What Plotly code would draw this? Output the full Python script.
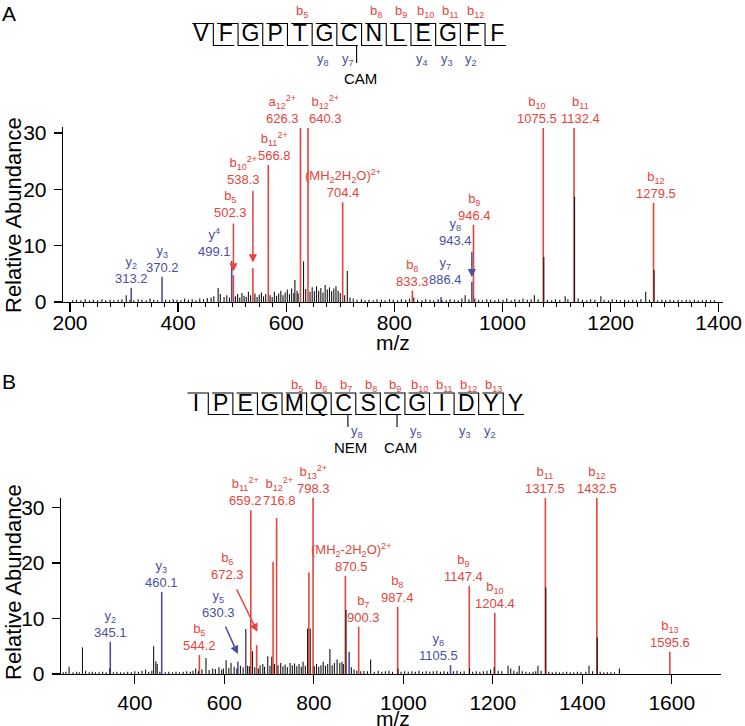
import plotly.graph_objects as go

FONT = "Liberation Sans, Arial, Helvetica, sans-serif"
RED = "#e5443d"
BLUE = "#4d4fa3"
BLACK = "#151515"
W, H = 745, 726

# ======================= DATA : panel A =======================
A_sequence = ["V", "F", "G", "P", "T", "G", "C", "N", "L", "E", "G", "F", "F"]
A_b_fragments = [5, 8, 9, 10, 11, 12]
A_y_fragments = [8, 7, 4, 3, 2]
A_mod_names = ["CAM"]
A_mod_residues = [7]

A_ion_names = ["y<sub>2</sub>", "y<sub>3</sub>", "y<sup>4</sup>", "b<sub>11</sub><sup>2+</sup>",
               "a<sub>12</sub><sup>2+</sup>", "b<sub>12</sub><sup>2+</sup>",
               "(MH<sub>2</sub>2H<sub>2</sub>O)<sup>2+</sup>", "b<sub>8</sub>", "y<sub>7</sub>",
               "b<sub>9</sub>", "b<sub>10</sub>", "b<sub>11</sub>", "b<sub>12</sub>"]
A_ion_mz = [313.2, 370.2, 499.1, 566.8, 626.3, 640.3, 704.4, 833.3, 886.4, 946.4, 1075.5, 1132.4, 1279.5]
A_ion_abund = [2.5, 4.5, 7.3, 24.3, 30.9, 30.9, 17.7, 2.0, 0.9, 13.7, 30.9, 30.9, 17.6]
A_ion_series = ["y", "y", "y", "b", "b", "b", "b", "b", "y", "b", "b", "b", "b"]

A_arrow_names = ["b<sub>5</sub>", "b<sub>10</sub><sup>2+</sup>", "y<sub>8</sub>"]
A_arrow_mz = [502.3, 538.3, 943.4]
A_arrow_abund = [4.8, 6.0, 3.6]
A_arrow_series = ["b", "b", "y"]

A_black_peaks = [
    (205, .3), (212, .4), (220, .3), (228, .5), (236, .3), (243, .4), (251, .3), (259, .5), (266, .3),
    (274, .4), (281, .3), (289, .4), (296, .5), (304, 1.2), (311, .4), (318, .3), (326, .5), (333, .4),
    (341, .3), (348, .6), (355, .4), (362, .3), (377, .4), (384, .3), (391, .5), (398, .4), (405, .3),
    (412, .6), (419, .4), (426, .5), (433, .3), (440, .6), (447, .5), (454, .7), (461, .8), (466, 1.0),
    (474, 2.5), (478, 1.4), (485, .9), (490, 1.2), (495, .8), (506, 1.0), (510, 1.4), (514, .8),
    (518, 1.6), (522, 1.1), (526, .9), (530, 1.8), (534, 1.2), (542, 1.5), (546, .9), (550, 1.3),
    (554, 1.7), (558, 1.0), (562, 1.4), (570, 1.2), (574, .9), (578, 1.8), (582, 1.1), (586, 1.5),
    (590, 2.0), (594, 1.2), (598, 1.7), (602, 2.2), (606, 1.4), (610, 2.4), (614, 1.6), (616, 3.9),
    (620, 2.0), (622, 1.5), (632, 7.2), (636, 2.3), (644, 1.8), (648, 2.6), (652, 1.9), (656, 2.8),
    (660, 2.0), (664, 2.5), (668, 1.7), (672, 3.0), (676, 2.2), (680, 2.6), (684, 1.9), (688, 2.4),
    (692, 2.8), (696, 2.0), (700, 1.6), (708, 1.2), (713, 5.5), (718, .8), (724, .6), (731, .4),
    (739, .5), (746, .3), (753, .4), (761, .3), (768, .5), (776, .4), (783, .3), (791, .5), (798, .4),
    (806, .3), (813, .5), (821, .4), (828, .6), (836, .8), (843, .4), (851, .3), (858, .5), (866, .4),
    (873, .3), (881, .5), (888, .4), (896, .3), (903, .5), (911, .4), (918, .3), (925, .6), (931, 1.2),
    (938, .5), (949, .6), (956, .4), (963, .3), (971, .5), (978, .4), (986, .3), (993, .5), (1001, .4),
    (1008, .6), (1016, .3), (1023, .5), (1031, .4), (1038, .6), (1046, .4), (1053, .5), (1059, 1.2),
    (1066, .5), (1076.5, 8.0), (1083, .4), (1091, .3), (1098, .5), (1106, .4), (1116, 1.0), (1121, .5),
    (1133.4, 18.7), (1140, .6), (1148, .4), (1156, .3), (1163, .5), (1171, .4), (1182, 1.0), (1188, .4),
    (1196, .3), (1203, .5), (1211, .4), (1218, .3), (1226, .4), (1233, .3), (1241, .4), (1248, .3),
    (1256, .5), (1265, 1.8), (1272, .4), (1280.5, 5.7), (1287, .3), (1295, .4), (1302, .3), (1310, .4),
    (1317, .3), (1325, .4), (1332, .3), (1340, .4), (1347, .3), (1355, .4), (1362, .3), (1370, .3),
    (1377, .4), (1385, .3), (1392, .3),
]
A_xticks = [200, 400, 600, 800, 1000, 1200, 1400]
A_yticks = [0, 10, 20, 30]

# ======================= DATA : panel B =======================
B_sequence = ["I", "P", "E", "G", "M", "Q", "C", "S", "C", "G", "I", "D", "Y", "Y"]
B_b_fragments = [5, 6, 7, 8, 9, 10, 11, 12, 13]
B_y_fragments = [8, 5, 3, 2]
B_mod_names = ["NEM", "CAM"]
B_mod_residues = [7, 9]

B_ion_names = ["y<sub>2</sub>", "y<sub>3</sub>", "b<sub>5</sub>", "b<sub>11</sub><sup>2+</sup>",
               "b<sub>12</sub><sup>2+</sup>", "b<sub>13</sub><sup>2+</sup>",
               "(MH<sub>2</sub>-2H<sub>2</sub>O)<sup>2+</sup>", "b<sub>7</sub>", "b<sub>8</sub>",
               "y<sub>8</sub>", "b<sub>9</sub>", "b<sub>10</sub>", "b<sub>11</sub>", "b<sub>12</sub>",
               "b<sub>13</sub>"]
B_ion_mz = [345.1, 460.1, 544.2, 659.2, 716.8, 798.3, 870.5, 900.3, 987.4, 1105.5, 1147.4, 1204.4,
            1317.5, 1432.5, 1595.6]
B_ion_abund = [5.8, 14.8, 3.4, 29.5, 28.1, 31.7, 17.7, 8.5, 12.1, 1.6, 15.9, 11.0, 31.7, 31.7, 4.0]
B_ion_series = ["y", "y", "b", "b", "b", "b", "b", "b", "b", "y", "b", "b", "b", "b", "b"]

B_extra_mz = [709.0, 789.0, 879.0]
B_extra_abund = [20.2, 18.3, 4.0]
B_extra_series = ["b", "b", "y"]

B_arrow_names = ["y<sub>5</sub>", "b<sub>6</sub>"]
B_arrow_mz = [630.3, 672.3]
B_arrow_abund = [2.2, 5.2]
B_arrow_series = ["y", "b"]

B_black_peaks = [
    (240, .3), (246, .4), (253, 1.3), (262, .3), (270, .4), (276, .3), (283, 4.8), (290, .6), (298, .3),
    (305, .4), (312, .3), (320, .3), (328, .4), (336, .3), (344, 1.0), (352, .3), (360, .4), (368, .3),
    (376, .3), (384, .4), (392, .3), (400, .5), (408, .4), (416, .6), (424, .8), (431, .4), (438, .6),
    (442, 5.0), (447, 2.3), (450, 1.8), (456, .4), (468, .3), (476, .4), (484, .3), (492, .4), (500, .3),
    (508, .4), (516, .5), (524, .4), (530, .6), (536, 1.0), (542, .5), (550, .8), (559, 2.9), (566, .7),
    (574, 1.0), (580, .9), (588, 1.2), (594, .8), (598, 1.0), (604, 2.5), (610, 1.1), (615, 2.0),
    (622, 1.3), (628, 1.0), (636, 1.5), (642, 1.2), (648, 8.1), (652, 1.5), (656, 1.4), (663, 4.1),
    (668, 1.2), (676, 1.0), (680, 1.6), (686, 1.8), (690, 1.3), (697, 3.2), (702, 1.5), (706, 3.1),
    (712, 1.8), (720, 1.6), (726, 2.0), (731, 1.4), (736, 1.7), (741, 1.2), (747, 2.0), (752, 1.6),
    (757, 1.9), (762, 1.4), (767, 1.8), (772, 1.3), (776, 2.2), (781, 1.5), (786, 8.2), (792, 8.2),
    (801, 1.4), (806, 1.8), (811, 1.3), (816, 1.6), (821, 2.2), (826, 1.5), (831, 1.8), (836, 4.5),
    (841, 1.6), (846, 2.0), (852, 2.6), (858, 2.0), (863, 2.2), (866, 1.8), (872, 11.6), (884, 1.2),
    (890, .8), (896, .6), (905, .5), (912, .6), (920, .5), (927, 2.6), (935, .4), (944, .6), (952, .4),
    (960, .5), (968, .6), (976, .4), (988, 1.0), (995, .4), (1003, .5), (1011, .4), (1019, .5),
    (1027, .4), (1035, .6), (1043, .4), (1051, .5), (1059, .4), (1067, .5), (1075, .6), (1083, .4),
    (1091, .5), (1099, .4), (1112, .5), (1120, .6), (1128, .4), (1136, .5), (1148, 1.0), (1155, .4),
    (1163, .5), (1171, .4), (1179, .5), (1187, .6), (1195, .8), (1203, 1.2), (1212, .6), (1220, .5),
    (1234, 1.5), (1240, 1.0), (1247, .6), (1254, .4), (1259, 1.5), (1266, .5), (1274, .4), (1282, .3),
    (1290, .4), (1296, .5), (1301, 1.5), (1308, .6), (1318.5, 15.6), (1325, .4), (1333, .3), (1341, .4),
    (1349, .3), (1357, .3), (1365, .4), (1373, .3), (1381, .3), (1389, .4), (1397, .3), (1408, .4),
    (1415, 1.5), (1423, .5), (1433.5, 6.6), (1440, .4), (1448, .3), (1456, .3), (1464, .3), (1472, .3),
    (1483, 1.0),
]
B_xticks = [400, 600, 800, 1000, 1200, 1400, 1600]
B_yticks = [0, 10, 20, 30]

# ======================= STYLE / LAYOUT (no data) =======================
A_lbl_anchor = ["center", "center", "right", "center", "right", "left", "center", "center", "center",
                "center", "center", "center", "center"]
A_lbl_dx = [0, 0, 1, 6, 1, -1, 0, 0, 4, 1, -6, 6, 2]
A_lbl_dy = [0, 0, 0, 0, 0, 0, 0, 0, 8, 0, 0, 0, 0]
A_arrow_tail = [14.2, 20.0, 9.2]
A_arrow_tip = [5.4, 7.0, 4.4]
A_arrow_lbl_anchor = ["center", "center", "right"]
A_arrow_lbl_dx = [-3, -9, 2]

B_lbl_dx = [0, 0, 0, -5, 3, 0, 6, 5, 0, -12, -6, 0, 0, 0, 0]
B_lbl_dy = [0, 0, 0, 0, 8, 0, 0, 0, 0, 0, 0, 0, 0, 0, 0]
B_arrow_tail_mz = [601, 626]
B_arrow_tail = [8.8, 15.5]
B_arrow_tip_mz = [630.3, 674]
B_arrow_tip = [3.6, 7.6]
B_arrow_lbl_mz = [586, 606]
B_arrow_lbl_y = [9.4, 16.2]


def px_x(p):
    return p / W


def px_y(p):
    return 1 - p / H


def col(s):
    return RED if s == "b" else BLUE


def sticks(mzs, tops):
    xs, ys = [], []
    for m, t in zip(mzs, tops):
        xs += [m, m, None]
        ys += [0, t, None]
    return xs, ys


fig = go.Figure()
ann = []


def add_sticks(mzs, tops, color, width, xa, ya):
    xs, ys = sticks(mzs, tops)
    fig.add_trace(go.Scatter(x=xs, y=ys, mode="lines", line=dict(color=color, width=width),
                             xaxis=xa, yaxis=ya, hoverinfo="skip", showlegend=False))


def spectrum(ion_names, ion_mz, ion_ab, ion_ser, arr_names, arr_mz, arr_ab, arr_ser, black,
             xr, yr, lbl_anchor, lbl_dx, lbl_dy):
    for s in ("b", "y"):
        sel = [i for i, q in enumerate(ion_ser) if q == s]
        add_sticks([ion_mz[i] for i in sel], [ion_ab[i] for i in sel], col(s), 1.6, xr, yr)
        sel = [i for i, q in enumerate(arr_ser) if q == s]
        add_sticks([arr_mz[i] for i in sel], [arr_ab[i] for i in sel], col(s), 1.6, xr, yr)
    add_sticks([p[0] for p in black], [p[1] for p in black], BLACK, 1.1, xr, yr)
    for i, name in enumerate(ion_names):
        ann.append(dict(x=ion_mz[i], y=ion_ab[i], xref=xr, yref=yr, showarrow=False,
                        text=f"{name}<br>{ion_mz[i]:.1f}", xanchor=lbl_anchor[i], yanchor="bottom",
                        xshift=lbl_dx[i], yshift=lbl_dy[i],
                        font=dict(family=FONT, size=13, color=col(ion_ser[i]))))


spectrum(A_ion_names, A_ion_mz, A_ion_abund, A_ion_series, A_arrow_names, A_arrow_mz, A_arrow_abund,
         A_arrow_series, A_black_peaks, "x", "y", A_lbl_anchor, A_lbl_dx, A_lbl_dy)
spectrum(B_ion_names, B_ion_mz, B_ion_abund, B_ion_series, B_arrow_names, B_arrow_mz, B_arrow_abund,
         B_arrow_series, B_black_peaks, "x2", "y2", ["center"] * len(B_ion_names), B_lbl_dx, B_lbl_dy)

# unlabeled coloured lines in B
for s in ("b", "y"):
    sel = [i for i, q in enumerate(B_extra_series) if q == s]
    add_sticks([B_extra_mz[i] for i in sel], [B_extra_abund[i] for i in sel], col(s), 1.6, "x2", "y2")

# arrows A (vertical)
for i, name in enumerate(A_arrow_names):
    c = col(A_arrow_series[i])
    ann.append(dict(x=A_arrow_mz[i], y=A_arrow_tip[i], ax=A_arrow_mz[i], ay=A_arrow_tail[i],
                    xref="x", yref="y", axref="x", ayref="y", showarrow=True, text="",
                    arrowhead=2, arrowsize=1.1, arrowwidth=1.5, arrowcolor=c, standoff=0))
    ann.append(dict(x=A_arrow_mz[i], y=A_arrow_tail[i], xref="x", yref="y", showarrow=False,
                    text=f"{name}<br>{A_arrow_mz[i]:.1f}", xanchor=A_arrow_lbl_anchor[i], yanchor="bottom",
                    xshift=A_arrow_lbl_dx[i], font=dict(family=FONT, size=13, color=c)))
# arrows B (diagonal)
for i, name in enumerate(B_arrow_names):
    c = col(B_arrow_series[i])
    ann.append(dict(x=B_arrow_tip_mz[i], y=B_arrow_tip[i], ax=B_arrow_tail_mz[i], ay=B_arrow_tail[i],
                    xref="x2", yref="y2", axref="x2", ayref="y2", showarrow=True, text="",
                    arrowhead=2, arrowsize=1.1, arrowwidth=1.5, arrowcolor=c, standoff=0))
    ann.append(dict(x=B_arrow_lbl_mz[i], y=B_arrow_lbl_y[i], xref="x2", yref="y2", showarrow=False,
                    text=f"{name}<br>{B_arrow_mz[i]:.1f}", xanchor="center", yanchor="bottom",
                    font=dict(family=FONT, size=13, color=c)))


# ---------------- sequence maps ----------------
def sequence_map(seq, bfr, yfr, mods, mod_res, xr, yr, g, y_dx):
    n = len(seq)
    fig.add_trace(go.Scatter(x=list(range(n)), y=[g["letters"]] * n, mode="text", text=seq,
                             textposition="middle center",
                             textfont=dict(family=FONT, size=23, color="black"),
                             xaxis=xr, yaxis=yr, hoverinfo="skip", showlegend=False))
    xs, ys = [], []
    for k in range(n - 1):
        bx = k + 0.5
        xs += [bx - 0.85, bx, bx, bx + 0.85, None]
        ys += [g["top"], g["top"], g["bot"], g["bot"], None]
    for j, r in enumerate(mod_res):
        tx = r - 1 + g["tick_dx"]
        xs += [tx, tx, None]
        ys += [g["bot"], g["tick_end"], None]
    fig.add_trace(go.Scatter(x=xs, y=ys, mode="lines", line=dict(color="black", width=1.1),
                             xaxis=xr, yaxis=yr, hoverinfo="skip", showlegend=False))
    for i in bfr:
        ann.append(dict(x=i - 1 + 0.1, y=g["b_lbl"], xref=xr, yref=yr, showarrow=False,
                        text=f"b<sub>{i}</sub>", font=dict(family=FONT, size=13, color=RED)))
    for j, k in enumerate(yfr):
        ann.append(dict(x=n - k - 0.05 + y_dx[j], y=g["y_lbl"], xref=xr, yref=yr, showarrow=False,
                        text=f"y<sub>{k}</sub>", font=dict(family=FONT, size=13, color=BLUE)))
    for j, r in enumerate(mod_res):
        ann.append(dict(x=r - 1 + g["mod_dx"], y=g["mod_lbl"], xref=xr, yref=yr, showarrow=False,
                        text=mods[j], font=dict(family=FONT, size=15, color="black")))


A_geom = dict(top=23.5, bot=45.5, letters=35, b_lbl=11.7, y_lbl=59.3, tick_end=63, mod_lbl=78.3,
              tick_dx=0.3, mod_dx=0.45)
B_geom = dict(top=393, bot=414.5, letters=405, b_lbl=385, y_lbl=431.7, tick_end=427, mod_lbl=447.3,
              tick_dx=0.18, mod_dx=0.3)
sequence_map(A_sequence, A_b_fragments, A_y_fragments, A_mod_names, A_mod_residues, "x3", "y3", A_geom,
             [0] * len(A_y_fragments))
sequence_map(B_sequence, B_b_fragments, B_y_fragments, B_mod_names, B_mod_residues, "x4", "y4", B_geom,
             [0.6, 0, 0, 0])

# ---------------- titles / panel letters ----------------
for txt, x, y, ang in [("Relative Abundance", 14, 215, -90), ("Relative Abundance", 13, 582, -90),
                       ("m/z", 393, 342, 0), ("m/z", 393, 718, 0)]:
    ann.append(dict(text=txt, x=px_x(x), y=px_y(y), xref="paper", yref="paper", showarrow=False,
                    textangle=ang, xanchor="center", yanchor="middle",
                    font=dict(family=FONT, size=22 if ang else 21, color="black")))
for txt, x, y in [("A", 9, 13), ("B", 9, 381)]:
    ann.append(dict(text=txt, x=px_x(x), y=px_y(y), xref="paper", yref="paper", showarrow=False,
                    xanchor="center", yanchor="middle", font=dict(family=FONT, size=21, color="black")))

axis_common = dict(showline=True, linecolor="black", linewidth=1.3, ticks="outside", tickcolor="black",
                   tickwidth=1.3, showgrid=False, zeroline=False, automargin=False,
                   tickfont=dict(family=FONT, size=21, color="black"))
hidden = dict(visible=False, showgrid=False, zeroline=False, automargin=False)

A_zero, A_scale = 302.0, 5.633
B_zero, B_scale = 674.0, 5.55
A_ytop, B_ytop = 31.0, 31.7

fig.update_layout(
    template="none",
    width=W, height=H, margin=dict(l=0, r=0, t=0, b=0, pad=0), autosize=False,
    paper_bgcolor="white", plot_bgcolor="rgba(0,0,0,0)", showlegend=False, hovermode=False,
    font=dict(family=FONT, color="black"),
    xaxis=dict(domain=[px_x(63), px_x(723)], range=[187, 1408], anchor="y", tickvals=A_xticks,
               ticklen=9, ticklabelstandoff=-8,
               minor=dict(tickmode="linear", tick0=200, dtick=25, ticks="outside", ticklen=4,
                          tickcolor="black", tickwidth=1, showgrid=False), **axis_common),
    yaxis=dict(domain=[px_y(A_zero), px_y(A_zero - A_ytop * A_scale)], range=[0, A_ytop], anchor="x",
               tickvals=A_yticks, ticklen=8, ticklabelstandoff=3, **axis_common),
    xaxis2=dict(domain=[px_x(61), px_x(721)], range=[235, 1710], anchor="y2", tickvals=B_xticks,
                ticklen=9, ticklabelstandoff=0, **axis_common),
    yaxis2=dict(domain=[px_y(B_zero), px_y(B_zero - B_ytop * B_scale)], range=[0, B_ytop], anchor="x2",
                tickvals=B_yticks, ticklen=8, ticklabelstandoff=3, **axis_common),
    xaxis3=dict(domain=[px_x(201 - 12.35), px_x(201 + 12 * 24.7 + 12.35)], range=[-0.5, 12.5],
                anchor="y3", **hidden),
    yaxis3=dict(domain=[px_y(95), 1], range=[95, 0], anchor="x3", **hidden),
    xaxis4=dict(domain=[px_x(196 - 12.29), px_x(196 + 13 * 24.58 + 12.29)], range=[-0.5, 13.5],
                anchor="y4", **hidden),
    yaxis4=dict(domain=[px_y(460), px_y(360)], range=[460, 360], anchor="x4", **hidden),
    annotations=ann,
)

fig.write_html("out.html", config={"displayModeBar": False, "staticPlot": True},
               post_script="document.body.style.margin='0';document.body.style.overflow='hidden';")
